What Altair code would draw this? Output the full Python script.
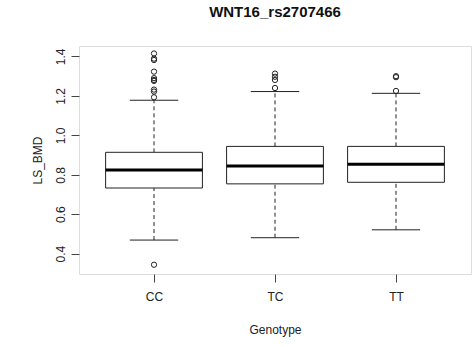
import altair as alt
import pandas as pd

genotypes = ["CC", "TC", "TT"]
q1 = [0.733, 0.754, 0.762]
median = [0.824, 0.844, 0.853]
q3 = [0.914, 0.944, 0.944]
whisker_low = [0.469, 0.481, 0.521]
whisker_high = [1.178, 1.222, 1.213]
outliers_cc = [1.415, 1.389, 1.382, 1.323, 1.290, 1.281, 1.276, 1.232, 1.222, 1.193, 0.344]
outliers_tc = [1.313, 1.297, 1.281, 1.240]
outliers_tt = [1.300, 1.295, 1.225]

stats = pd.DataFrame({
    "g": genotypes,
    "idx": [1, 2, 3],
    "q1": q1, "med": median, "q3": q3,
    "lo": whisker_low, "hi": whisker_high,
})
out_rows = []
for i, vals in enumerate([outliers_cc, outliers_tc, outliers_tt]):
    for v in vals:
        out_rows.append({"idx": i + 1, "v": v})
outs = pd.DataFrame(out_rows)

xs = alt.Scale(domain=[0.38, 3.62], nice=False, zero=False)
ys = alt.Scale(domain=[0.297, 1.453], nice=False, zero=False)

label_expr = "datum.value == 1 ? 'CC' : datum.value == 2 ? 'TC' : 'TT'"

xaxis = alt.Axis(values=[1, 2, 3], labelExpr=label_expr, title="Genotype",
                 domain=False, grid=False, tickSize=8, tickColor="#444",
                 labelPadding=9, labelFontSize=12, labelFont="Liberation Sans",
                 labelColor="#222", titleFont="Liberation Sans", titleFontSize=12,
                 titleFontWeight="normal", titleColor="#222", titlePadding=22)
yaxis = alt.Axis(values=[0.4, 0.6, 0.8, 1.0, 1.2, 1.4], format=".1f", title="LS_BMD",
                 domain=False, grid=False, tickSize=8, tickColor="#444",
                 labelAngle=270, labelAlign="center", labelBaseline="bottom",
                 labelPadding=4, labelFontSize=12, labelFont="Liberation Sans",
                 labelColor="#222", titleFont="Liberation Sans", titleFontSize=12,
                 titleFontWeight="normal", titleColor="#222", titlePadding=10)

base = alt.Chart(stats).transform_calculate(
    xl="datum.idx - 0.4", xr="datum.idx + 0.4",
    cl="datum.idx - 0.2", cr="datum.idx + 0.2",
)

whisk_up = base.mark_rule(color="#222", strokeDash=[4, 3], strokeWidth=1).encode(
    x=alt.X("idx:Q", scale=xs, axis=xaxis),
    y=alt.Y("q3:Q", scale=ys, axis=yaxis),
    y2="hi:Q",
)
whisk_dn = base.mark_rule(color="#222", strokeDash=[4, 3], strokeWidth=1).encode(
    x=alt.X("idx:Q", scale=xs), y=alt.Y("lo:Q", scale=ys), y2="q1:Q",
)
cap_hi = base.mark_rule(color="#222", strokeWidth=1).encode(
    x=alt.X("cl:Q", scale=xs), x2="cr:Q", y=alt.Y("hi:Q", scale=ys),
)
cap_lo = base.mark_rule(color="#222", strokeWidth=1).encode(
    x=alt.X("cl:Q", scale=xs), x2="cr:Q", y=alt.Y("lo:Q", scale=ys),
)
box = base.mark_rect(fill="white", stroke="#222", strokeWidth=1).encode(
    x=alt.X("xl:Q", scale=xs), x2="xr:Q", y=alt.Y("q1:Q", scale=ys), y2="q3:Q",
)
med = base.mark_rule(color="black", strokeWidth=3).encode(
    x=alt.X("xl:Q", scale=xs), x2="xr:Q", y=alt.Y("med:Q", scale=ys),
)
pts = alt.Chart(outs).mark_point(shape="circle", filled=False, color="#222",
                                 size=28, strokeWidth=1, opacity=1).encode(
    x=alt.X("idx:Q", scale=xs), y=alt.Y("v:Q", scale=ys),
)

chart = alt.layer(whisk_up, whisk_dn, cap_hi, cap_lo, box, med, pts).properties(
    width=392, height=228,
    title=alt.Title("WNT16_rs2707466", font="Liberation Sans", fontSize=15,
                    fontWeight="bold", color="#111", anchor="middle", offset=26),
    autosize=alt.AutoSizeParams(type="none"),
    padding={"left": 79, "top": 46, "right": 4, "bottom": 73},
).configure_view(stroke="#555", strokeWidth=1).configure(background="white")

chart.save("out.html", embed_options={"renderer": "svg", "actions": False})
